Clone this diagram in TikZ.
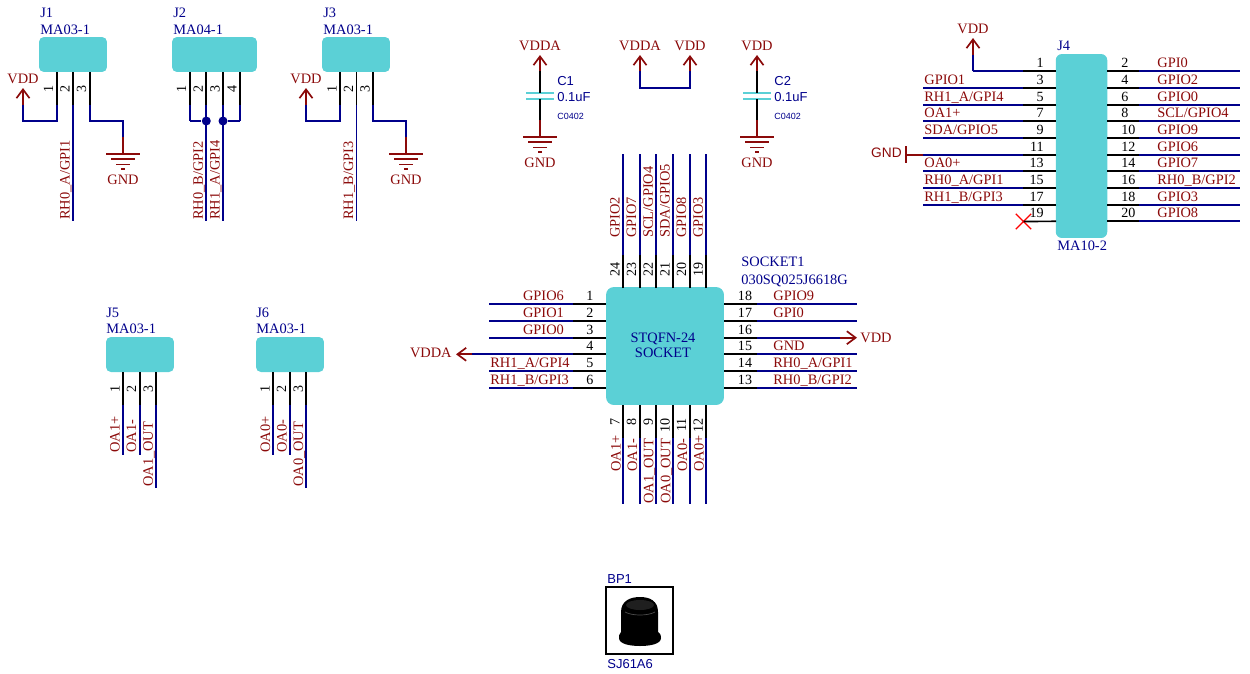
\documentclass[tikz,border=0pt]{standalone}
\usepackage{fontspec}
\setmainfont{Liberation Serif}
\newfontfamily\partfont{Liberation Sans}
\usepackage{tikz}
\usetikzlibrary{arrows.meta}
\usetikzlibrary{shapes.misc}
\definecolor{netred}{HTML}{8B0A0A}
\definecolor{wireblue}{HTML}{00008B}
\definecolor{bodycyan}{HTML}{5BD0D6}
\tikzset{body/.style={fill=bodycyan,inner sep=0pt,rounded corners=2.8pt}}
\tikzset{stub/.style={draw=black,line width=0.95pt}}
\tikzset{wire/.style={draw=wireblue,line width=0.95pt}}
\tikzset{pwr/.style={draw=netred,line width=0.95pt}}
\tikzset{pwrarrow/.style={pwr,-{Straight Barb[length=5pt,width=7.4pt]}}}
\tikzset{plate/.style={draw=bodycyan,line width=1.1pt}}
\tikzset{netlabel/.style={text=netred,inner sep=0pt,font=\fontsize{8.2}{9}\selectfont}}
\tikzset{partlabel/.style={text=wireblue,inner sep=0pt,align=center,font=\fontsize{8.2}{8.6}\selectfont}}
\tikzset{sanslabel/.style={text=wireblue,inner sep=0pt,font=\partfont\fontsize{7.4}{9}\selectfont}}
\tikzset{pnum/.style={text=black,inner sep=0pt,font=\fontsize{8}{9}\selectfont}}
\tikzset{junction/.style={circle,fill=wireblue,inner sep=0pt,minimum size=0.18cm}}
\newcommand{\hpin}[5]{
    \coordinate (#1a) at (#2,#5);
    \coordinate (#1b) at (#3,#5);
    \coordinate (#1c) at (#4,#5);
    \draw[stub] (#1a) -- (#1b);
    \draw[wire] (#1b) -- (#1c);
}
\newcommand{\sockl}[5]{
    \hpin{#1}{606}{573}{489}{#2}
    \node[pnum,anchor=base] (#1n) at (590,#2-3.5) {#3};
    \node[netlabel,anchor=base west] (#1t) at (#4,#2-3.5) {#5};
}
\newcommand{\sockr}[4]{
    \hpin{#1}{724}{757}{857}{#2}
    \node[pnum,anchor=base] (#1n) at (745,#2-3.5) {#3};
    \node[netlabel,anchor=base west] (#1t) at (773,#2-3.5) {#4};
}
\newcommand{\hdrl}[4]{
    \hpin{#1}{1056}{1023}{923}{#2}
    \node[pnum,anchor=base east] (#1n) at (1044,#2-3.5) {#3};
    \node[netlabel,anchor=base west] (#1t) at (924,#2-3.5) {#4};
}
\newcommand{\hdrr}[4]{
    \hpin{#1}{1107}{1139}{1240}{#2}
    \node[pnum,anchor=base west] (#1n) at (1121,#2-3.5) {#3};
    \node[netlabel,anchor=base west] (#1t) at (1157,#2-3.5) {#4};
}
\newcommand{\dnpin}[5]{
    \coordinate (#1a) at (#2,#3);
    \coordinate (#1b) at (#2,#3+33);
    \coordinate (#1c) at (#2,#4);
    \draw[stub] (#1a) -- (#1b);
    \draw[wire] (#1b) -- (#1c);
    \node[pnum,rotate=90,anchor=base east] (#1n) at (#2-3.5,#3+13) {#5};
}
\newcommand{\uppin}[4]{
    \coordinate (#1a) at (#2,288);
    \coordinate (#1b) at (#2,255);
    \coordinate (#1c) at (#2,154);
    \draw[stub] (#1a) -- (#1b);
    \draw[wire] (#1b) -- (#1c);
    \node[pnum,rotate=90,anchor=base] (#1n) at (#2-3.5,269) {#3};
    \node[netlabel,rotate=90,anchor=base west] (#1t) at (#2-3.5,238) {#4};
}
\newcommand{\vnet}[4]{
    \node[netlabel,rotate=90,anchor=base west] (#1) at (#2,#3) {#4};
}
\newcommand{\pwrup}[5]{
    \coordinate (#1t) at (#2,#3);
    \coordinate (#1b) at (#2,#4);
    \draw[pwrarrow] (#1b) -- (#1t);
    \node[netlabel] (#1l) at (#2,#3-9) {#5};
}
\newcommand{\gndsym}[3]{
    \coordinate (#1) at (#2,#3-17);
    \coordinate (#1b) at (#2,#3);
    \draw[pwr] (#1) -- (#1b);
    \draw[pwr,shift={(#1b)}] (-17,0) -- (17,0) (-12,5) -- (12,5) (-7,10.5) -- (7,10.5) (-2,15) -- (2,15);
    \node[netlabel] (#1l) at (#2,#3+25.5) {GND};
}
\newcommand{\capsym}[5]{
    \coordinate (#1p) at (#2,92.7);
    \coordinate (#1q) at (#2,99.3);
    \draw[plate] (#2-14,92.7) -- (#2+14,92.7) (#2-14,99.3) -- (#2+14,99.3);
    \draw[stub] (#3) -- (#1p);
    \draw[stub] (#1q) -- (#4);
    \node[sanslabel,anchor=base west] (#1n) at (#2+17,85) {#5};
    \node[sanslabel,anchor=base west] (#1v) at (#2+17,101.7) {0.1uF};
    \node[sanslabel,anchor=base west,font=\partfont\fontsize{5.1}{6}\selectfont] (#1f) at (#2+17,119.3) {C0402};
}

\begin{document}
\begin{tikzpicture}[x=0.02cm,y=-0.02cm]
        \useasboundingbox (0,0) rectangle (1250,673);

        \node[body,minimum width=1.36cm,minimum height=0.7cm] (jone) at (73,54.5) {};
        \node[body,minimum width=1.7cm,minimum height=0.7cm] (jtwo) at (214.5,54.5) {};
        \node[body,minimum width=1.36cm,minimum height=0.7cm] (jthree) at (356,54.5) {};
        \node[body,minimum width=1.36cm,minimum height=0.7cm] (jfive) at (140,354.5) {};
        \node[body,minimum width=1.36cm,minimum height=0.7cm] (jsix) at (290,354.5) {};
        \node[body,minimum width=1.03cm,minimum height=3.68cm,rounded corners=3.5pt] (jfour) at (1081.5,146) {};
        \node[body,minimum width=2.36cm,minimum height=2.36cm,rounded corners=4.5pt] (sock) at (665,346) {};
        \node[partlabel] (socktext) at (663,345.5) {STQFN-24\\SOCKET};

        \node[partlabel,anchor=base west] (jonea) at (40,17) {J1};
        \node[partlabel,anchor=base west] (joneb) at (40,34) {MA03-1};
        \node[partlabel,anchor=base west] (jtwoa) at (173,17) {J2};
        \node[partlabel,anchor=base west] (jtwob) at (173,34) {MA04-1};
        \node[partlabel,anchor=base west] (jthreea) at (323,17) {J3};
        \node[partlabel,anchor=base west] (jthreeb) at (323,34) {MA03-1};
        \node[partlabel,anchor=base west] (jfivea) at (106,317) {J5};
        \node[partlabel,anchor=base west] (jfiveb) at (106,333) {MA03-1};
        \node[partlabel,anchor=base west] (jsixa) at (256,317) {J6};
        \node[partlabel,anchor=base west] (jsixb) at (256,333) {MA03-1};
        \node[partlabel,anchor=base west] (jfoura) at (1057,50) {J4};
        \node[partlabel,anchor=base west] (jfourb) at (1057,250) {MA10-2};
        \node[partlabel,anchor=base west] (socka) at (741,266) {SOCKET1};
        \node[partlabel,anchor=base west] (sockb) at (741,284) {030SQ025J6618G};

        \dnpin{ja}{56.7}{72}{121}{1}
        \dnpin{jb}{73}{72}{221}{2}
        \dnpin{jc}{89.7}{72}{121}{3}
        \vnet{tjb}{69.5}{220}{RH0\_A/GPI1}
        \pwrup{vddj}{23}{88}{105}{VDD}
        \draw[wire] (jab) -- ++(0,16) -| (vddjb);
        \gndsym{gndj}{123}{154}
        \draw[wire] (jcb) -- ++(0,16) -| (gndj);

        \dnpin{ka}{189.7}{72}{121}{1}
        \dnpin{kb}{206.3}{72}{221}{2}
        \dnpin{kc}{223}{72}{221}{3}
        \dnpin{kd}{240}{72}{121}{4}
        \vnet{tkb}{202.8}{220}{RH0\_B/GPI2}
        \vnet{tkc}{219.5}{220}{RH1\_A/GPI4}
        \node[junction] (jctb) at (206.3,121) {};
        \node[junction] (jctc) at (223,121) {};
        \draw[wire] (kac) -- (jctb);
        \draw[wire] (kdc) -- (jctc);

        \dnpin{la}{340}{72}{121}{1}
        \dnpin{lb}{356.5}{72}{221}{2}
        \dnpin{lc}{373}{72}{121}{3}
        \vnet{tlb}{353}{220}{RH1\_B/GPI3}
        \pwrup{vddl}{306}{88}{105}{VDD}
        \draw[wire] (lab) -- ++(0,16) -| (vddlb);
        \gndsym{gndl}{406}{154}
        \draw[wire] (lcb) -- ++(0,16) -| (gndl);

        \dnpin{ma}{123}{372}{455}{1}
        \dnpin{mb}{139.7}{372}{455}{2}
        \dnpin{mc}{156.3}{372}{488}{3}
        \vnet{tma}{119.5}{453}{OA1+}
        \vnet{tmb}{136.2}{453}{OA1-}
        \vnet{tmc}{152.8}{487}{OA1\_OUT}

        \dnpin{na}{273}{372}{455}{1}
        \dnpin{nb}{289.7}{372}{455}{2}
        \dnpin{nc}{306.3}{372}{488}{3}
        \vnet{tna}{270}{453}{OA0+}
        \vnet{tnb}{286.5}{453}{OA0-}
        \vnet{tnc}{303}{487}{OA0\_OUT}

        \pwrup{vddc}{540}{55}{71}{VDDA}
        \gndsym{gndc}{540}{137}
        \capsym{cone}{540}{vddcb}{gndc}{C1}
        \pwrup{vddd}{757}{55}{71}{VDD}
        \gndsym{gndd}{757}{137}
        \capsym{ctwo}{757}{vdddb}{gndd}{C2}

        \pwrup{vddx}{640}{55}{71}{VDDA}
        \pwrup{vddy}{690}{55}{71}{VDD}
        \draw[wire] (vddxb) -- ++(0,17) -| (vddyb);

        \uppin{ua}{623}{24}{GPIO2}
        \uppin{ub}{639.7}{23}{GPIO7}
        \uppin{uc}{656.3}{22}{SCL/GPIO4}
        \uppin{ud}{673}{21}{SDA/GPIO5}
        \uppin{ue}{689.7}{20}{GPIO8}
        \uppin{uf}{706.3}{19}{GPIO3}

        \dnpin{da}{623}{405}{504}{7}
        \dnpin{db}{639.7}{405}{504}{8}
        \dnpin{dc}{656.3}{405}{504}{9}
        \dnpin{dd}{673}{405}{504}{10}
        \dnpin{de}{689.7}{405}{504}{11}
        \dnpin{df}{706.3}{405}{504}{12}
        \vnet{tda}{620.5}{472}{OA1+}
        \vnet{tdb}{637.2}{472}{OA1-}
        \vnet{tdc}{653.3}{504}{OA1\_OUT}
        \vnet{tdd}{670.3}{504}{OA0\_OUT}
        \vnet{tde}{687}{472}{OA0-}
        \vnet{tdf}{703.7}{472}{OA0+}

        \sockl{sa}{304.3}{1}{522.7}{GPIO6}
        \sockl{sb}{321}{2}{522.7}{GPIO1}
        \sockl{sc}{337.7}{3}{522.7}{GPIO0}
        \hpin{sd}{606}{573}{472}{354.3}
        \node[pnum,anchor=base] (sdn) at (590,350.8) {4};
        \coordinate (vddat) at (456,354.3);
        \draw[pwrarrow] (sdc) -- (vddat);
        \node[netlabel,anchor=east] (vddal) at (452,353) {VDDA};
        \sockl{se}{371}{5}{490}{RH1\_A/GPI4}
        \sockl{sf}{387.7}{6}{490}{RH1\_B/GPI3}

        \sockr{ra}{304.3}{18}{GPIO9}
        \sockr{rb}{321}{17}{GPI0}
        \hpin{rc}{724}{757}{840}{337.7}
        \node[pnum,anchor=base] (rcn) at (745,334.2) {16};
        \coordinate (vddrt) at (857,337.7);
        \draw[pwrarrow] (rcc) -- (vddrt);
        \node[netlabel,anchor=west] (vddrl) at (860,337.7) {VDD};
        \sockr{rd}{354.3}{15}{GND}
        \sockr{re}{371}{14}{RH0\_A/GPI1}
        \sockr{rf}{387.7}{13}{RH0\_B/GPI2}

        \hpin{ha}{1056}{1023}{973}{71.3}
        \node[pnum,anchor=base east] (han) at (1044,67.8) {1};
        \pwrup{vddh}{973}{38}{55}{VDD}
        \draw[wire] (hac) -- (vddhb);
        \hdrl{hc}{88}{3}{GPIO1}
        \hdrl{he}{104.7}{5}{RH1\_A/GPI4}
        \hdrl{hg}{121.3}{7}{OA1+}
        \hdrl{hi}{138}{9}{SDA/GPIO5}
        \hpin{hk}{1056}{1023}{923}{154.7}
        \node[pnum,anchor=base east] (hkn) at (1044,151.2) {11};
        \coordinate (gndh) at (906,154.7);
        \draw[pwr] (hkc) -- (gndh);
        \draw[pwr] (906,146) -- (906,163);
        \node[netlabel,anchor=east,font=\partfont\fontsize{7.8}{9}\selectfont] (gndhl) at (902,153) {GND};
        \hdrl{hm}{171.3}{13}{OA0+}
        \hdrl{ho}{188}{15}{RH0\_A/GPI1}
        \hdrl{hq}{204.7}{17}{RH1\_B/GPI3}
        \coordinate (hsa) at (1056,221.3);
        \node[draw=red,line width=0.75pt,cross out,inner sep=0pt,minimum size=0.28cm] (hsx) at (1023.5,221.5) {};
        \draw[stub] (hsa) -- (hsx.center);
        \node[pnum,anchor=base east] (hsn) at (1044,217.8) {19};

        \hdrr{hb}{71.3}{2}{GPI0}
        \hdrr{hd}{88}{4}{GPIO2}
        \hdrr{hf}{104.7}{6}{GPIO0}
        \hdrr{hh}{121.3}{8}{SCL/GPIO4}
        \hdrr{hj}{138}{10}{GPIO9}
        \hdrr{hl}{154.7}{12}{GPIO6}
        \hdrr{hn}{171.3}{14}{GPIO7}
        \hdrr{hp}{188}{16}{RH0\_B/GPI2}
        \hdrr{hr}{204.7}{18}{GPIO3}
        \hdrr{ht}{221.3}{20}{GPIO8}

        \node[draw=black,line width=0.75pt,inner sep=0pt,minimum size=1.34cm] (bpone) at (639.5,620.5) {};
        \fill[black] (621,612) .. controls (621,601) and (630,597) .. (640,597) .. controls (650,597) and (658,601) .. (658,612) -- (658,632) .. controls (661,634) and (661,636) .. (661,638) .. controls (661,644) and (650,646) .. (640,646) .. controls (630,646) and (619,644) .. (619,638) .. controls (619,636) and (619,634) .. (621,632) -- cycle;
        \fill[black!88] (640,605) ellipse (14 and 5);
        \draw[black!70,line width=0.4pt] (625,612) .. controls (632,616) and (648,616) .. (655,612);
        \node[sanslabel,anchor=base west] (bpa) at (607,583) {BP1};
        \node[sanslabel,anchor=base west] (bpb) at (607,668) {SJ61A6};
    \end{tikzpicture}
\end{document}
